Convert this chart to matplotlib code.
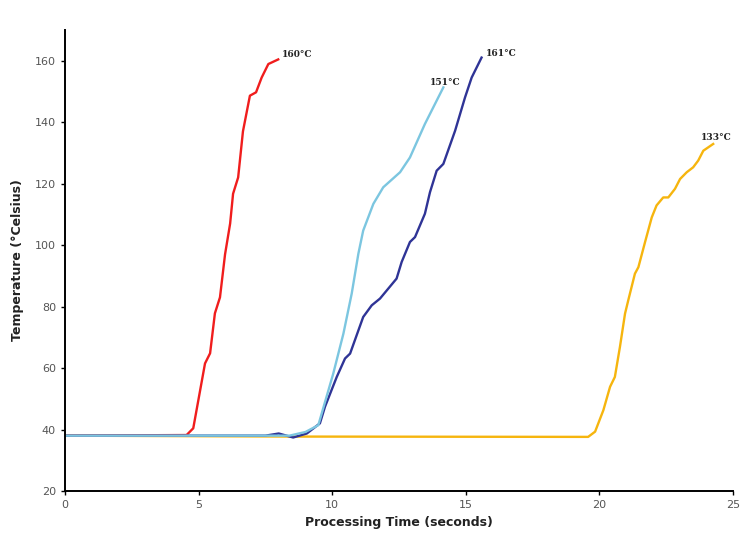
import matplotlib.pyplot as plt

# time (s) / temperature (°C)
red_t = [0, 4.55, 4.8, 5.24, 5.43, 5.61, 5.8, 5.99, 6.18, 6.29, 6.48, 6.66, 6.92, 7.15, 7.36, 7.61, 7.98]
red_y = [38, 38.2, 40.4, 61.5, 64.8, 77.8, 83, 97, 107, 116.7, 122, 137, 148.6, 149.7, 154.5, 158.9, 160.4]

light_t = [0, 8.4, 9.0, 9.48, 10.04, 10.42, 10.73, 10.98, 11.16, 11.54, 11.91, 12.54, 12.91, 13.47, 14.16]
light_y = [38, 38, 39.2, 41.4, 58.2, 71.2, 84.2, 97.2, 104.7, 113.4, 118.8, 123.7, 128.5, 139.4, 151.3]

navy_t = [0, 7.5, 8.0, 8.54, 9.05, 9.54, 9.73, 10.17, 10.48, 10.67, 11.16, 11.48, 11.79, 12.41, 12.6,
          12.91, 13.1, 13.47, 13.66, 13.91, 14.16, 14.6, 14.97, 15.22, 15.59]
navy_y = [38, 38, 38.7, 37.4, 38.7, 42, 47.4, 57.1, 63.1, 64.7, 76.6, 80.4, 82.6, 89.1, 94.5,
          101, 102.6, 110.2, 117.2, 124.2, 126.4, 137.2, 148, 154.5, 161]

yellow_t = [0, 8.5, 19.58, 19.84, 20.15, 20.4, 20.58, 20.77, 20.96, 21.08, 21.33, 21.46, 21.71, 21.96,
            22.14, 22.39, 22.58, 22.83, 23.02, 23.27, 23.51, 23.7, 23.89, 24.26]
yellow_y = [38, 37.7, 37.6, 39.3, 46.3, 53.9, 57.1, 66.9, 77.7, 82, 90.7, 92.8, 101, 109,
            112.9, 115.5, 115.5, 118.3, 121.5, 123.7, 125.3, 127.5, 130.7, 132.9]

fig = plt.figure(figsize=(7.43, 5.38), dpi=100)
ax = fig.add_axes([0.0875, 0.0874, 0.899, 0.857])

lw = 1.7
ax.plot(yellow_t, yellow_y, color='#f6b50e', lw=lw)
ax.plot(red_t, red_y, color='#f01d1d', lw=lw)
ax.plot(navy_t, navy_y, color='#2f3496', lw=lw)
ax.plot(light_t, light_y, color='#7cc6e0', lw=lw)

lab = dict(fontsize=6.5, fontweight='bold', color='#222222', family='DejaVu Serif')
ax.text(8.1, 160.5, '160°C', ha='left', va='bottom', **lab)
ax.text(13.65, 151.5, '151°C', ha='left', va='bottom', **lab)
ax.text(15.75, 161, '161°C', ha='left', va='bottom', **lab)
ax.text(23.8, 133.5, '133°C', ha='left', va='bottom', **lab)

ax.set_xlim(0, 25)
ax.set_ylim(20, 170)
ax.set_xticks([0, 5, 10, 15, 20, 25])
ax.set_yticks([20, 40, 60, 80, 100, 120, 140, 160])
ax.tick_params(labelsize=8, labelcolor='#555555', length=3, width=1)
for s in ['top', 'right']:
    ax.spines[s].set_visible(False)
for s in ['left', 'bottom']:
    ax.spines[s].set_linewidth(1.4)

ax.set_xlabel('Processing Time (seconds)', fontsize=9, fontweight='bold', color='#222222', labelpad=4)
ax.set_ylabel('Temperature (°Celsius)', fontsize=9, fontweight='bold', color='#222222', labelpad=8)

fig.savefig('out.png', dpi=100)
